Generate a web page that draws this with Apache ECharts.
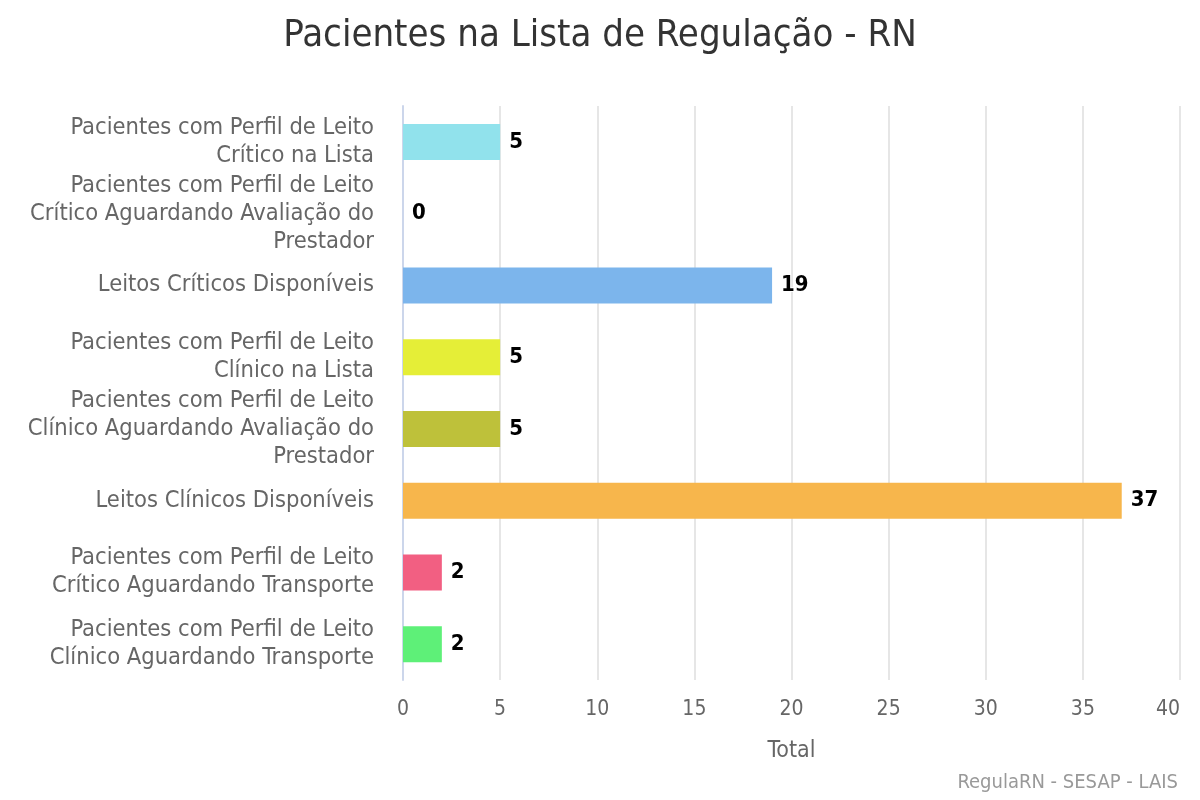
<!DOCTYPE html>
<html>
<head>
<meta charset="utf-8">
<script src="https://cdn.jsdelivr.net/npm/echarts@6/dist/echarts.min.js"></script>
<style>
  html, body { margin: 0; padding: 0; background: #fff; }
  #chart { width: 1200px; height: 800px; }
</style>
</head>
<body>
<div id="chart"></div>
<script>
const categories = [
  "Pacientes com Perfil de Leito\nCrítico na Lista",
  "Pacientes com Perfil de Leito\nCrítico Aguardando Avaliação do\nPrestador",
  "Leitos Críticos Disponíveis",
  "Pacientes com Perfil de Leito\nClínico na Lista",
  "Pacientes com Perfil de Leito\nClínico Aguardando Avaliação do\nPrestador",
  "Leitos Clínicos Disponíveis",
  "Pacientes com Perfil de Leito\nCrítico Aguardando Transporte",
  "Pacientes com Perfil de Leito\nClínico Aguardando Transporte"
];
const totals = [5, 0, 19, 5, 5, 37, 2, 2];
const barColors = ["#91e2ec", "#434348", "#7cb5ec", "#e5ee37", "#bec13a", "#f7b64c", "#f25f82", "#5ef078"];
const xTicks = [0, 5, 10, 15, 20, 25, 30, 35, 40];

const font = "DejaVu Sans Condensed";
const chart = echarts.init(document.getElementById("chart"), null, { renderer: "canvas" });

chart.setOption({
  animation: false,
  backgroundColor: "#fff",
  textStyle: { fontFamily: font },
  title: [
    {
      text: "Pacientes na Lista de Regulação - RN",
      left: "center",
      top: 12,
      textStyle: { fontFamily: font, fontSize: 38, fontWeight: "normal", color: "#333" }
    },
    {
      text: "RegulaRN - SESAP - LAIS",
      right: 17,
      bottom: 2,
      textStyle: { fontFamily: font, fontSize: 20, fontWeight: "normal", color: "#999" }
    }
  ],
  grid: { left: 403, right: 20, top: 106, bottom: 120, containLabel: false },
  xAxis: {
    type: "value",
    min: xTicks[0],
    max: xTicks[xTicks.length - 1],
    interval: 5,
    name: "Total",
    nameLocation: "middle",
    nameGap: 60,
    nameTextStyle: { fontFamily: font, fontSize: 23, color: "#666" },
    axisLine: { show: false },
    axisTick: { show: false },
    axisLabel: { fontFamily: font, fontSize: 21, color: "#666", margin: 19, alignMaxLabel: "right" },
    splitLine: { show: true, lineStyle: { color: "#e6e6e6", width: 2 } }
  },
  yAxis: {
    type: "category",
    data: categories,
    inverse: true,
    axisLine: { show: true, lineStyle: { color: "#ccd6eb", width: 2 } },
    axisTick: { show: false },
    axisLabel: {
      fontFamily: font,
      fontSize: 23.5,
      color: "#666",
      lineHeight: 28,
      align: "right",
      margin: 29
    }
  },
  series: [
    {
      type: "bar",
      barWidth: 36,
      data: totals.map((v, i) => ({ value: v, itemStyle: { color: barColors[i] } })),
      label: {
        show: true,
        position: "right",
        distance: 9,
        fontFamily: font,
        fontSize: 22,
        fontWeight: "bold",
        color: "#000",
        textBorderColor: "#fff",
        textBorderWidth: 2
      }
    }
  ]
});
</script>
</body>
</html>
